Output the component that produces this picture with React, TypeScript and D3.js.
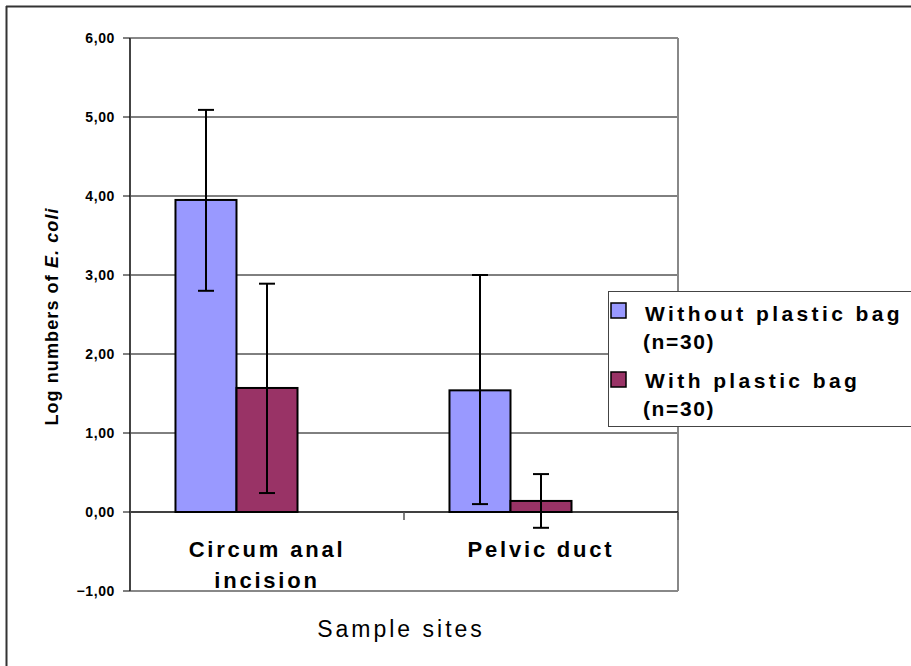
import * as d3 from "d3";

const CATEGORIES = ["Circum anal incision", "Pelvic duct"];
const CATEGORY_LINES = [["Circum anal", "incision"], ["Pelvic duct"]];
const SERIES = ["Without plastic bag", "With plastic bag"];
const SERIES_N = ["(n=30)", "(n=30)"];
const COLORS = ["#9999FF", "#993366"];

const WITHOUT = [3.95, 1.54];
const WITH = [1.57, 0.14];
const WITHOUT_LO = [2.8, 0.1];
const WITHOUT_HI = [5.09, 3.0];
const WITH_LO = [0.24, -0.2];
const WITH_HI = [2.89, 0.48];
const Y_TICKS = [-1, 0, 1, 2, 3, 4, 5, 6];

const FONT = "'Liberation Sans', Arial, sans-serif";

export default function App() {
  const width = 911;
  const height = 666;
  const plot = { left: 130, right: 678, top: 38, bottom: 591 };

  const y = d3.scaleLinear().domain([-1, 6]).range([plot.bottom, plot.top]);
  const x0 = d3
    .scaleBand<string>()
    .domain(CATEGORIES)
    .range([plot.left, plot.right])
    .paddingInner(0.332)
    .paddingOuter(0.166);
  // third slot stays empty (as in the original clustered layout)
  const x1 = d3
    .scaleBand<string>()
    .domain([...SERIES, "gap"])
    .range([0, x0.bandwidth()]);

  const fmt = (v: number) => d3.format(".2f")(v).replace(".", ",");
  const series = [
    { name: SERIES[0], values: WITHOUT, lo: WITHOUT_LO, hi: WITHOUT_HI, color: COLORS[0] },
    { name: SERIES[1], values: WITH, lo: WITH_LO, hi: WITH_HI, color: COLORS[1] },
  ];
  const step = x0.step();
  const boundaries = d3.range(CATEGORIES.length + 1).map((i) => plot.left + i * step);

  return (
    <svg
      width={width}
      height={height}
      style={{ position: "absolute", left: 0, top: 0, background: "#fff" }}
      fontFamily={FONT}
    >
      {/* outer frame */}
      <line x1={6.5} x2={6.5} y1={6} y2={height} stroke="#333" strokeWidth={2} />
      <line x1={6} x2={width} y1={6.5} y2={6.5} stroke="#333" strokeWidth={2} />

      {/* gridlines */}
      {Y_TICKS.filter((t) => t > 0 && t < 6).map((t) => (
        <line key={t} x1={plot.left} x2={plot.right} y1={y(t)} y2={y(t)} stroke="#000" strokeWidth={1} />
      ))}

      {/* plot frame */}
      <line x1={plot.left} x2={plot.right} y1={y(6)} y2={y(6)} stroke="#888" strokeWidth={2} />
      <line x1={plot.right} x2={plot.right} y1={y(6)} y2={y(-1)} stroke="#888" strokeWidth={2} />
      <line x1={plot.left} x2={plot.right} y1={y(-1)} y2={y(-1)} stroke="#888" strokeWidth={2} />

      {/* bars */}
      {series.map((s) =>
        CATEGORIES.map((c, i) => (
          <rect
            key={s.name + c}
            x={x0(c)! + x1(s.name)!}
            y={Math.min(y(s.values[i]), y(0))}
            width={x1.bandwidth()}
            height={Math.abs(y(0) - y(s.values[i]))}
            fill={s.color}
            stroke="#000"
            strokeWidth={2}
          />
        ))
      )}

      {/* error bars */}
      {series.map((s) =>
        CATEGORIES.map((c, i) => {
          const cx = x0(c)! + x1(s.name)! + x1.bandwidth() / 2;
          return (
            <g key={"e" + s.name + c} stroke="#000" strokeWidth={2}>
              <line x1={cx} x2={cx} y1={y(s.hi[i])} y2={y(s.lo[i])} />
              <line x1={cx - 8} x2={cx + 8} y1={y(s.hi[i])} y2={y(s.hi[i])} />
              <line x1={cx - 8} x2={cx + 8} y1={y(s.lo[i])} y2={y(s.lo[i])} />
            </g>
          );
        })
      )}

      {/* x axis at zero */}
      <line x1={plot.left} x2={plot.right} y1={y(0)} y2={y(0)} stroke="#000" strokeWidth={1.5} />
      {boundaries.map((bx) => (
        <line key={bx} x1={bx} x2={bx} y1={y(0)} y2={y(0) + 8} stroke="#555" strokeWidth={1.5} />
      ))}

      {/* y axis */}
      <line x1={plot.left} x2={plot.left} y1={y(6)} y2={y(-1)} stroke="#444" strokeWidth={2} />
      {Y_TICKS.map((t) => (
        <g key={"t" + t}>
          <line x1={plot.left - 7} x2={plot.left} y1={y(t)} y2={y(t)} stroke="#000" strokeWidth={1} />
          <text
            x={plot.left - 15}
            y={y(t)}
            dy="0.36em"
            textAnchor="end"
            fontSize={14}
            fontWeight="bold"
            letterSpacing={0.6}
            fill="#000"
          >
            {fmt(t)}
          </text>
        </g>
      ))}

      {/* category labels */}
      {CATEGORIES.map((c, i) =>
        CATEGORY_LINES[i].map((line, j) => (
          <text
            key={c + j}
            x={x0(c)! + x0.bandwidth() / 2}
            y={557 + j * 31}
            textAnchor="middle"
            fontSize={22}
            fontWeight="bold"
            letterSpacing={2.8}
            fill="#000"
          >
            {line}
          </text>
        ))
      )}

      {/* axis titles */}
      <text
        transform={`translate(58,${(plot.top + plot.bottom) / 2 + 2}) rotate(-90)`}
        textAnchor="middle"
        fontSize={18}
        fontWeight="bold"
        letterSpacing={1.1}
        fill="#000"
      >
        Log numbers of <tspan fontStyle="italic">E. coli</tspan>
      </text>
      <text x={401} y={637} textAnchor="middle" fontSize={23} letterSpacing={3} fill="#000">
        Sample sites
      </text>

      {/* legend */}
      <rect x={608.5} y={291.5} width={320} height={135} fill="#fff" stroke="#444" strokeWidth={1} />
      {series.map((s, i) => (
        <g key={"l" + s.name}>
          <rect x={611} y={303 + i * 69} width={15} height={15} fill={s.color} stroke="#000" strokeWidth={1.5} />
          <text x={645} y={321 + i * 67} fontSize={21} fontWeight="bold" letterSpacing={3.4} fill="#000">
            {s.name}
          </text>
          <text x={643} y={349 + i * 67} fontSize={21} fontWeight="bold" letterSpacing={1.6} fill="#000">
            {SERIES_N[i]}
          </text>
        </g>
      ))}
    </svg>
  );
}
